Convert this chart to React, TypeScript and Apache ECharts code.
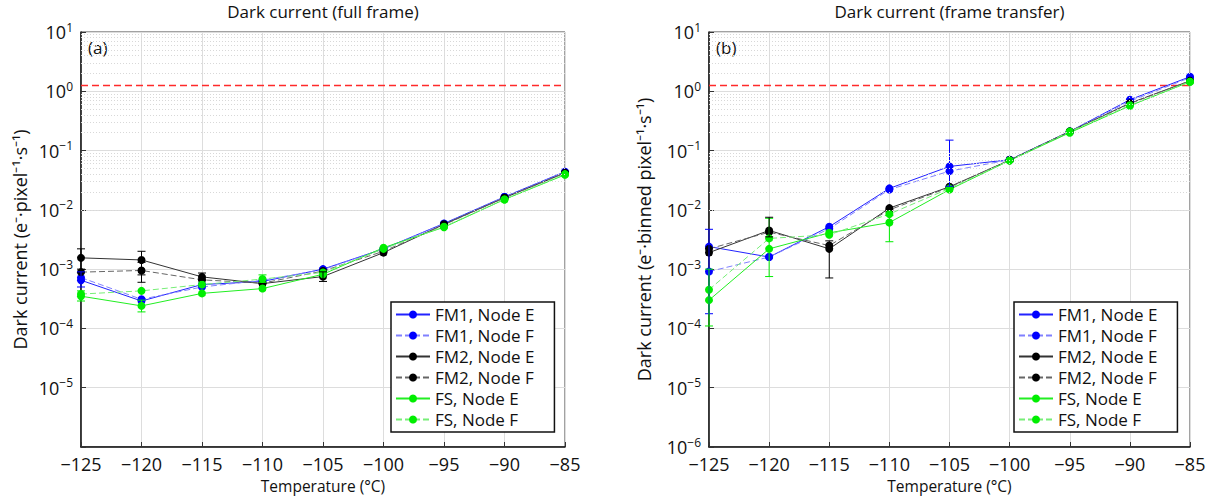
import React, { useEffect, useRef } from "react";
import * as echarts from "echarts";

const temps = [-125, -120, -115, -110, -105, -100, -95, -90, -85];
const seriesNames = ["FM1, Node E", "FM1, Node F", "FM2, Node E", "FM2, Node F", "FS, Node E", "FS, Node F"];

// (a) full frame
const fm1E_a = [6.5e-4, 2.9e-4, 5.5e-4, 6.2e-4, 1.0e-3, 2.2e-3, 5.9e-3, 1.66e-2, 4.4e-2];
const fm1F_a = [7.2e-4, 3.1e-4, 5.0e-4, 6.5e-4, 9.8e-4, 2.2e-3, 5.8e-3, 1.65e-2, 4.3e-2];
const fm2E_a = [1.55e-3, 1.43e-3, 7.4e-4, 5.7e-4, 7.5e-4, 1.9e-3, 5.7e-3, 1.6e-2, 4.2e-2];
const fm2F_a = [8.9e-4, 9.5e-4, 6.6e-4, 5.8e-4, 9.3e-4, 2.0e-3, 5.6e-3, 1.6e-2, 4.2e-2];
const fsE_a = [3.5e-4, 2.4e-4, 3.9e-4, 4.7e-4, 8.2e-4, 2.3e-3, 5.1e-3, 1.5e-2, 3.9e-2];
const fsF_a = [3.8e-4, 4.3e-4, 5.5e-4, 6.8e-4, 8.8e-4, 2.2e-3, 5.2e-3, 1.5e-2, 4.0e-2];

// (b) frame transfer
const fm1E_b = [2.4e-3, 1.6e-3, 5.2e-3, 2.3e-2, 5.4e-2, 7.0e-2, 0.21, 0.72, 1.76];
const fm1F_b = [9.1e-4, 1.6e-3, 4.8e-3, 2.2e-2, 4.5e-2, 7.0e-2, 0.21, 0.68, 1.7];
const fm2E_b = [1.9e-3, 4.5e-3, 2.2e-3, 1.07e-2, 2.45e-2, 6.9e-2, 0.21, 0.63, 1.5];
const fm2F_b = [2.2e-3, 4.2e-3, 2.5e-3, 1.0e-2, 2.4e-2, 6.9e-2, 0.21, 0.62, 1.5];
const fsE_b = [3.0e-4, 2.2e-3, 4.1e-3, 6.1e-3, 2.2e-2, 6.8e-2, 0.2, 0.57, 1.45];
const fsF_b = [4.5e-4, 3.3e-3, 3.8e-3, 8.5e-3, 2.3e-2, 6.8e-2, 0.21, 0.58, 1.45];

// error bars: [series index, temperature, low, high]
const errA = [
  [0, -125, 5.0e-4, 9.0e-4],
  [2, -125, 1.0e-3, 2.2e-3],
  [2, -120, 8.0e-4, 2.0e-3],
  [3, -120, 6.0e-4, 1.3e-3],
  [2, -115, 6.5e-4, 8.6e-4],
  [4, -125, 2.9e-4, 4.3e-4],
  [4, -120, 1.9e-4, 3.0e-4],
  [5, -110, 6.0e-4, 8.0e-4],
  [2, -105, 6.2e-4, 9.0e-4],
];
const errB = [
  [0, -125, 1.77e-4, 4.7e-3],
  [4, -125, 1.1e-4, 1.0e-3],
  [5, -120, 7.5e-4, 7.2e-3],
  [2, -120, 3.5e-3, 7.5e-3],
  [2, -115, 7.1e-4, 3.0e-3],
  [4, -110, 2.9e-3, 8.0e-3],
  [0, -105, 2.5e-2, 0.15],
];

const thresholdValue = 1.25;
const yMin = 1e-6;
const yMax = 10;

const FONT = "Open Sans";
const markerColors = ["#0000ff", "#0000ff", "#000000", "#000000", "#00ee00", "#00ee00"];
const lineColors = ["#2222ff", "#8080ff", "#333333", "#666666", "#22ee22", "#77ee77"];
const lineTypes = ["solid", "dashed", "solid", "dashed", "solid", "dashed"];

function minorValues() {
  const out: number[] = [];
  for (let k = -6; k <= 0; k++) {
    for (let d = 2; d <= 9; d++) out.push(d * Math.pow(10, k));
  }
  return out;
}

function expLabel(v: number, hideBottom: boolean) {
  const e = Math.round(Math.log10(v));
  if (hideBottom && e === -6) return "";
  const s = e < 0 ? "\u2212" + -e : String(e);
  return "{a|10}{b|" + s + "}";
}

export default function App() {
  const ref = useRef<HTMLDivElement>(null);
  useEffect(() => {
    if (!ref.current) return;
    const chart = echarts.init(ref.current, null, { renderer: "svg" });
    const grids = [
      { left: 81, top: 32, width: 484, height: 415 },
      { left: 709, top: 32, width: 481, height: 415 },
    ];
    const dataSets = [
      [fm1E_a, fm1F_a, fm2E_a, fm2F_a, fsE_a, fsF_a],
      [fm1E_b, fm1F_b, fm2E_b, fm2F_b, fsE_b, fsF_b],
    ];
    const errs = [errA, errB];
    const yNames = [
      "Dark current (e\u207B\u00B7pixel\u207B\u00B9\u00B7s\u207B\u00B9)",
      "Dark current (e\u207B\u00B7binned pixel\u207B\u00B9\u00B7s\u207B\u00B9)",
    ];
    const titles = ["Dark current (full frame)", "Dark current (frame transfer)"];
    const panels = ["(a)", "(b)"];

    const xAxes = grids.map((_, i) => ({
      type: "value",
      gridIndex: i,
      min: -125,
      max: -85,
      interval: 5,
      name: "Temperature (\u00B0C)",
      nameLocation: "middle",
      nameGap: 31,
      nameTextStyle: { fontFamily: FONT, fontSize: 15.5, color: "#111" },
      axisLine: { show: true, lineStyle: { color: "#111", width: 1.5 } },
      axisTick: { show: true, inside: true, length: 5, lineStyle: { color: "#333" } },
      axisLabel: {
        fontFamily: FONT,
        fontSize: 18,
        color: "#111",
        margin: 8,
        formatter: (v: number) => String(v).replace("-", "\u2212"),
      },
      splitLine: { show: true, lineStyle: { color: "#dddddd", width: 1 } },
    }));

    const yAxes = grids.map((_, i) => ({
      type: "log",
      logBase: 10,
      gridIndex: i,
      min: yMin,
      max: yMax,
      name: yNames[i],
      nameLocation: "middle",
      nameRotate: 90,
      nameGap: i === 0 ? 52 : 56,
      nameTextStyle: { fontFamily: FONT, fontSize: 18, color: "#111" },
      axisLine: { show: true, lineStyle: { color: "#111", width: 1.5 } },
      axisTick: { show: true, inside: true, length: 5, lineStyle: { color: "#333" } },
      axisLabel: {
        fontFamily: FONT,
        color: "#111",
        margin: 8,
        formatter: (v: number) => expLabel(v, i === 0),
        rich: {
          a: { fontFamily: FONT, fontSize: 18, color: "#111", lineHeight: 22 },
          b: { fontFamily: FONT, fontSize: 12, color: "#111", verticalAlign: "top", lineHeight: 12 },
        },
      },
      splitLine: { show: true, lineStyle: { color: "#dddddd", width: 1 } },
    }));

    const series: any[] = [];
    grids.forEach((_, g) => {
      series.push({
        type: "line",
        name: "threshold" + g,
        xAxisIndex: g,
        yAxisIndex: g,
        data: [
          [temps[0], thresholdValue],
          [temps[temps.length - 1], thresholdValue],
        ],
        symbol: "none",
        lineStyle: { color: "#ff2a2a", type: [7, 4], width: 1.5 },
        z: 1,
        silent: true,
        markLine: {
          silent: true,
          symbol: ["none", "none"],
          label: { show: false },
          lineStyle: { color: "#d8d8d8", type: [1, 2], width: 1 },
          data: minorValues().map((v) => ({ yAxis: v })),
          animation: false,
        },
      });
      dataSets[g].forEach((arr, s) => {
        series.push({
          type: "line",
          name: seriesNames[s],
          xAxisIndex: g,
          yAxisIndex: g,
          data: temps.map((t, k) => [t, arr[k]]),
          symbol: "circle",
          symbolSize: 8,
          showSymbol: true,
          itemStyle: { color: markerColors[s] },
          lineStyle: { color: lineColors[s], width: 1, type: lineTypes[s] === "dashed" ? [6, 3] : "solid" },
          z: 3,
        });
      });
      series.push({
        type: "custom",
        name: "err" + g,
        xAxisIndex: g,
        yAxisIndex: g,
        z: 4,
        silent: true,
        data: errs[g].map((e) => [e[1], e[2], e[3], e[0]]),
        encode: { x: 0, y: [1, 2] },
        renderItem: (params: any, api: any) => {
          const x = api.value(0);
          const p1 = api.coord([x, api.value(1)]);
          const p2 = api.coord([x, api.value(2)]);
          const c = markerColors[api.value(3)];
          const st = { stroke: c, lineWidth: 1 };
          return {
            type: "group",
            children: [
              { type: "line", shape: { x1: p1[0], y1: p1[1], x2: p2[0], y2: p2[1] }, style: st },
              { type: "line", shape: { x1: p1[0] - 4, y1: p1[1], x2: p1[0] + 4, y2: p1[1] }, style: st },
              { type: "line", shape: { x1: p2[0] - 4, y1: p2[1], x2: p2[0] + 4, y2: p2[1] }, style: st },
            ],
          };
        },
      });
    });

    const legends = [
      { left: 391, top: 302 },
      { left: 1014, top: 302 },
    ].map((pos) => ({
      ...pos,
      orient: "vertical",
      data: seriesNames,
      backgroundColor: "#ffffff",
      borderColor: "#111",
      borderWidth: 1.5,
      padding: [4, 20, 4, 4],
      itemGap: 4,
      itemWidth: 34,
      itemHeight: 10,
      selectedMode: false,
      textStyle: { fontFamily: FONT, fontSize: 17, color: "#111", lineHeight: 17 },
    }));

    const graphics: any[] = [];
    grids.forEach((gr, g) => {
      graphics.push({
        type: "text",
        x: gr.left + gr.width / 2,
        y: 3,
        style: { text: titles[g], font: `17px '${FONT}'`, fill: "#111", textAlign: "center" },
      });
      graphics.push({
        type: "text",
        x: gr.left + 7,
        y: 39,
        style: { text: panels[g], font: `17px '${FONT}'`, fill: "#111" },
      });
    });

    chart.setOption({
      animation: false,
      backgroundColor: "#ffffff",
      grid: grids.map((gr) => ({
        ...gr,
        show: true,
        borderColor: "#444",
        borderWidth: 1,
        backgroundColor: "transparent",
      })),
      xAxis: xAxes,
      yAxis: yAxes,
      legend: legends,
      series,
      graphic: graphics,
    } as any);
    return () => chart.dispose();
  }, []);
  return (
    <div
      ref={ref}
      style={{ position: "absolute", left: 0, top: 0, width: 1218, height: 504 }}
    />
  );
}
